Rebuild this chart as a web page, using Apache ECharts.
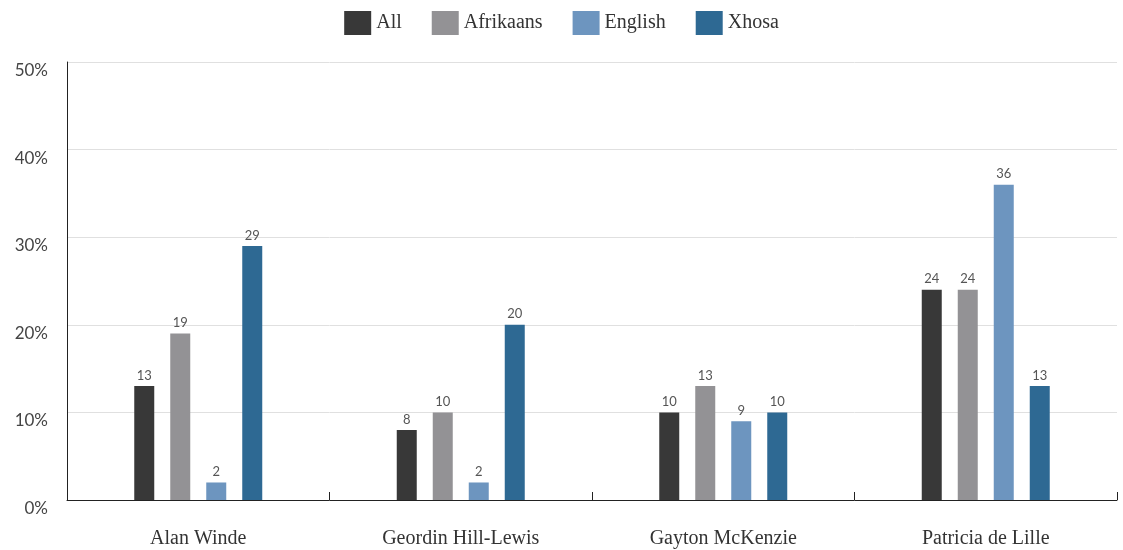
<!DOCTYPE html>
<html>
<head>
<meta charset="utf-8">
<script src="https://cdn.jsdelivr.net/npm/echarts@6/dist/echarts.min.js"></script>
<style>html,body{margin:0;padding:0;background:#fff}#c{width:1123px;height:550px}</style>
</head>
<body>
<div id="c"></div>
<script>
const categories = ['Alan Winde', 'Geordin Hill-Lewis', 'Gayton McKenzie', 'Patricia de Lille'];
const seriesNames = ['All', 'Afrikaans', 'English', 'Xhosa'];
const allValues = [13, 8, 10, 24];
const afrikaansValues = [19, 10, 13, 24];
const englishValues = [2, 2, 9, 36];
const xhosaValues = [29, 20, 10, 13];
const yTicks = [0, 10, 20, 30, 40, 50];

const colors = ['#383838', '#939295', '#6d95bf', '#2e6993'];
const valueSets = [allValues, afrikaansValues, englishValues, xhosaValues];

const chart = echarts.init(document.getElementById('c'));
chart.setOption({
  animation: false,
  color: colors,
  legend: {
    top: 6,
    left: 'center',
    itemWidth: 27,
    itemHeight: 24,
    itemGap: 30,
    icon: 'rect',
    textStyle: { fontFamily: 'Liberation Serif', fontSize: 20, color: '#333', padding: [0, 0, 3, 0] },
    data: seriesNames
  },
  grid: { left: 67, right: 6, top: 62, bottom: 50 },
  xAxis: {
    type: 'category',
    data: categories,
    axisLine: { lineStyle: { color: '#222', width: 1 } },
    axisTick: { show: true, inside: true, length: 8, lineStyle: { color: '#222' } },
    axisLabel: { fontFamily: 'Liberation Serif', fontSize: 20, color: '#333', margin: 29 }
  },
  yAxis: {
    type: 'value',
    min: yTicks[0],
    max: yTicks[yTicks.length - 1],
    interval: 10,
    axisLine: { show: true, lineStyle: { color: '#222', width: 1 } },
    axisTick: { show: false },
    splitLine: { lineStyle: { color: '#e0e0e0' } },
    axisLabel: {
      formatter: v => v + '%',
      fontFamily: 'Lato',
      fontSize: 17,
      color: '#444',
      margin: 19,
      verticalAlign: 'top'
    }
  },
  series: seriesNames.map((name, i) => ({
    name: name,
    type: 'bar',
    data: valueSets[i],
    barWidth: 20,
    barGap: '80%',
    itemStyle: { color: colors[i] },
    label: {
      show: true,
      position: 'top',
      distance: 4,
      fontFamily: 'Lato',
      fontSize: 13,
      color: '#555'
    }
  }))
});
</script>
</body>
</html>
